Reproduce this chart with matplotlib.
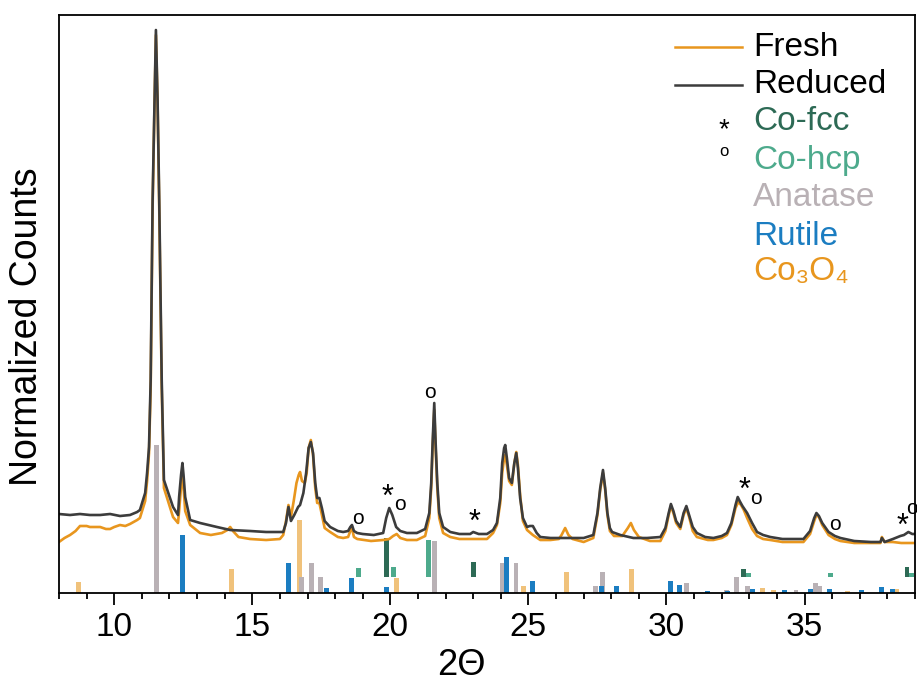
import matplotlib
matplotlib.use("Agg")
import matplotlib.pyplot as plt
from matplotlib.ticker import MultipleLocator

plt.rcParams['font.family'] = ['Liberation Sans', 'DejaVu Sans']

# measured patterns (2theta in degrees, intensity in arbitrary units)
fresh_x = [8.00, 8.2, 8.40, 8.6, 8.76, 9.0, 9.12, 9.49, 9.7, 9.85, 10.0, 10.21, 10.4, 10.57, 10.83, 10.93,
           11.12, 11.19, 11.26, 11.32, 11.39, 11.46, 11.51, 11.57, 11.63, 11.72, 11.80, 12.13, 12.31, 12.35,
           12.42, 12.47, 12.51, 12.57, 12.75, 13.11, 13.5, 13.9, 14.1, 14.2, 14.3, 14.5, 14.92, 15.5, 16.0,
           16.12, 16.22, 16.31, 16.40, 16.5, 16.6, 16.68, 16.73, 16.8, 16.9, 16.97, 17.04, 17.12, 17.2, 17.28,
           17.35, 17.43, 17.52, 17.62, 17.82, 18.1, 18.29, 18.47, 18.55, 18.61, 18.68, 18.8, 19.3, 19.74,
           19.96, 20.1, 20.23, 20.36, 20.6, 20.96, 21.26, 21.41, 21.48, 21.53, 21.59, 21.64, 21.70, 21.77,
           21.91, 22.17, 22.5, 23.0, 23.5, 23.72, 23.86, 23.98, 24.05, 24.12, 24.16, 24.22, 24.3, 24.40,
           24.49, 24.56, 24.62, 24.7, 24.8, 24.95, 25.16, 25.43, 25.8, 26.1, 26.2, 26.33, 26.45, 26.6, 27.0,
           27.35, 27.5, 27.6, 27.7, 27.78, 27.86, 27.95, 28.1, 28.4, 28.6, 28.71, 28.82, 29.0, 29.4, 29.78,
           29.96, 30.08, 30.16, 30.25, 30.35, 30.50, 30.62, 30.72, 30.82, 30.95, 31.1, 31.5, 31.7, 32.0,
           32.19, 32.35, 32.50, 32.6, 32.7, 32.8, 32.92, 33.1, 33.28, 33.5, 33.76, 34.2, 34.96, 35.2, 35.35,
           35.43, 35.52, 35.64, 35.87, 36.1, 36.30, 36.8, 37.4, 37.75, 37.8, 37.9, 38.2, 38.5, 38.8, 39.0]
fresh_y = [51, 55, 58, 62, 67, 67, 66, 66, 64, 64, 66, 68, 67, 69, 73, 75,
           92, 112, 140, 205, 385, 490, 558, 490, 385, 205, 105, 76, 70, 82,
           106, 118, 106, 82, 68, 60, 58, 60, 63, 66, 62, 56, 54, 53, 54,
           58, 72, 88, 76, 92, 110, 118, 121, 112, 110, 120, 145, 153, 138, 105,
           90, 90, 78, 65, 61, 56, 55, 56, 62, 65, 56, 54, 52, 53,
           54, 57, 59, 55, 53, 53, 57, 75, 105, 145, 183, 145, 105, 75,
           60, 56, 54, 54, 54, 60, 68, 90, 120, 135, 138, 128, 112, 108,
           130, 141, 128, 98, 72, 63, 58, 53, 53, 54, 58, 65, 58, 54, 51,
           55, 78, 103, 120, 103, 78, 62, 57, 57, 65, 70, 63, 56, 52, 52,
           62, 78, 87, 80, 70, 64, 78, 85, 76, 62, 56, 53, 53, 55,
           58, 68, 85, 91, 88, 83, 75, 64, 57, 54, 53, 51, 51, 59, 72,
           78, 76, 68, 58, 54, 52, 50, 50, 50, 56, 51, 51, 50, 50, 50]

reduced_x = [8.00, 8.40, 8.76, 9.12, 9.49, 9.85, 10.21, 10.57, 10.83, 10.93, 11.12, 11.19, 11.26, 11.32,
             11.39, 11.46, 11.51, 11.57, 11.63, 11.72, 11.80, 12.13, 12.31, 12.35, 12.42, 12.47, 12.51,
             12.57, 12.75, 13.11, 13.72, 14.2, 14.92, 15.5, 16.12, 16.22, 16.31, 16.40, 16.52, 16.66, 16.73,
             16.85, 16.95, 17.04, 17.12, 17.2, 17.28, 17.35, 17.43, 17.52, 17.62, 17.82, 18.1, 18.29, 18.47,
             18.55, 18.61, 18.68, 18.80, 19.0, 19.4, 19.74, 19.85, 19.96, 20.07, 20.21, 20.36, 20.6, 20.96,
             21.26, 21.41, 21.48, 21.53, 21.59, 21.64, 21.70, 21.77, 21.91, 22.17, 22.5, 22.89, 23.0, 23.2,
             23.5, 23.72, 23.86, 23.98, 24.05, 24.12, 24.16, 24.22, 24.3, 24.40, 24.49, 24.56, 24.62, 24.7,
             24.8, 24.95, 25.05, 25.16, 25.3, 25.43, 25.8, 26.5, 27.0, 27.35, 27.5, 27.6, 27.7, 27.78, 27.86,
             27.95, 28.03, 28.33, 28.8, 29.3, 29.78, 29.96, 30.08, 30.16, 30.25, 30.35, 30.50, 30.62, 30.72,
             30.82, 30.95, 31.10, 31.4, 31.70, 32.0, 32.19, 32.35, 32.50, 32.58, 32.65, 32.75, 32.92, 33.1,
             33.28, 33.5, 33.76, 34.2, 34.96, 35.2, 35.35, 35.43, 35.52, 35.64, 35.87, 36.1, 36.30, 36.8,
             37.4, 37.75, 37.8, 37.9, 38.2, 38.47, 38.6, 38.76, 38.9, 39.0]
reduced_y = [79, 78, 79, 78, 78, 79, 77, 78, 81, 83, 100, 120, 146, 213,
             393, 493, 563, 493, 393, 213, 113, 86, 78, 96, 118, 130, 118,
             96, 73, 70, 66, 63, 62, 61, 61, 70, 86, 72, 78, 86, 88,
             100, 120, 145, 151, 140, 110, 95, 95, 85, 72, 66, 62, 61, 62,
             66, 68, 62, 60, 59, 58, 60, 75, 85, 78, 66, 62, 60, 60,
             64, 80, 110, 150, 190, 150, 110, 80, 66, 61, 59, 59, 61, 59,
             59, 63, 70, 95, 130, 145, 148, 135, 115, 110, 130, 140, 125, 95,
             75, 66, 67, 67, 60, 56, 55, 55, 55, 58, 80, 105, 123, 105, 80,
             65, 61, 58, 55, 55, 56, 65, 80, 89, 82, 72, 66, 80, 87,
             78, 66, 60, 56, 55, 57, 60, 70, 88, 96, 92, 87, 80, 70,
             61, 58, 56, 54, 54, 62, 75, 80, 77, 70, 61, 57, 55, 52,
             51, 51, 55, 51, 54, 57, 58, 61, 59, 59]

# reference patterns (stick positions and relative heights)
anatase_pos = [11.54, 16.78, 17.13, 17.46, 21.59, 24.06, 24.55, 27.44, 27.68, 30.72, 32.17, 32.55, 32.94,
               34.69, 35.39, 35.55]
anatase_h = [148, 16, 30, 16, 52, 30, 30, 7, 21, 10, 3, 16, 7, 3, 10, 7]
rutile_pos = [12.48, 16.32, 17.67, 18.58, 19.85, 24.20, 25.16, 27.66, 28.20, 30.16, 30.48, 31.49, 32.22,
              33.10, 34.28, 35.21, 35.91, 37.05, 37.78, 38.17]
rutile_h = [58, 30, 5, 15, 6, 36, 12, 7, 7, 12, 8, 2, 2, 4, 3, 4, 4, 3, 6, 4]
co3o4_pos = [8.70, 14.26, 16.70, 20.21, 24.82, 26.37, 28.72, 33.46, 33.86, 36.54, 38.33]
co3o4_h = [11, 24, 73, 15, 7, 21, 24, 5, 3, 2, 4]
cofcc_pos = [19.87, 23.01, 32.79, 38.71]
cofcc_h = [39, 15, 8, 10]
cohcp_pos = [18.85, 20.11, 21.38, 32.97, 35.93, 38.89]
cohcp_h = [9.5, 10, 37, 4, 4, 4]

# peak assignments marked on the reduced pattern
fcc_mark_x = [19.88, 23.04, 32.82, 38.56]
fcc_mark_y = [95, 70, 102, 66]
hcp_mark_x = [18.83, 20.33, 21.44, 33.24, 36.10, 38.88]
hcp_mark_y = [75, 88, 200, 94, 68, 84]

c_fresh = '#E8961E'
c_red = '#3C3C3C'
c_ana = '#B9B1B5'
c_rut = '#1B7DC1'
c_co3o4 = '#F0C27B'
c_fcc = '#2D6A55'
c_hcp = '#4DAA8C'

fig = plt.figure(figsize=(9.17, 6.83), dpi=100)
ax = fig.add_axes([59 / 917, 90 / 683, 856 / 917, 578 / 683])

w = 0.18
ax.bar(co3o4_pos, co3o4_h, width=w, color=c_co3o4)
ax.bar(anatase_pos, anatase_h, width=w, color=c_ana)
ax.bar(rutile_pos, rutile_h, width=w, color=c_rut)
ax.bar(cofcc_pos, cofcc_h, width=w, bottom=16, color=c_fcc)
ax.bar(cohcp_pos, cohcp_h, width=w, bottom=16, color=c_hcp)

ax.plot(fresh_x, fresh_y, color=c_fresh, lw=1.9)
ax.plot(reduced_x, reduced_y, color=c_red, lw=1.9)

# * = Co-fcc, o = Co-hcp
for x, y in zip(fcc_mark_x, fcc_mark_y):
    ax.text(x, y, '*', fontsize=22, ha='center', va='center', color='black')
for x, y in zip(hcp_mark_x, hcp_mark_y):
    ax.text(x, y, 'o', fontsize=15, ha='center', va='center', color='black')

# legend drawn by hand
tx = 0.811
ax.plot([0.7196, 0.7979], [0.9446, 0.9446], color=c_fresh, lw=1.8, transform=ax.transAxes)
ax.plot([0.7196, 0.7979], [0.8789, 0.8789], color=c_red, lw=1.8, transform=ax.transAxes)
ax.text(0.7769, 0.800, '*', fontsize=20, ha='center', va='center', transform=ax.transAxes)
ax.text(0.7769, 0.763, 'o', fontsize=12, ha='center', va='center', transform=ax.transAxes)
labels = ['Fresh', 'Reduced', 'Co-fcc', 'Co-hcp', 'Anatase', 'Rutile', 'Co\u2083O\u2084']
colors = ['black', 'black', c_fcc, c_hcp, c_ana, c_rut, c_fresh]
ys = [0.9446, 0.8789, 0.8149, 0.7491, 0.6851, 0.6176, 0.5554]
for lab, col, y in zip(labels, colors, ys):
    ax.text(tx, y, lab, fontsize=24, color=col, ha='left', va='center', transform=ax.transAxes)

ax.set_xlim(8, 39)
ax.set_ylim(0, 578)
ax.set_yticks([])
ax.xaxis.set_major_locator(MultipleLocator(5))
ax.xaxis.set_minor_locator(MultipleLocator(1))
ax.tick_params(axis='x', which='major', direction='out', length=8.5, width=1.3, labelsize=24, pad=5)
ax.tick_params(axis='x', which='minor', direction='out', length=4.5, width=1.3)
for s in ax.spines.values():
    s.set_linewidth(1.3)

ax.set_xlabel('2\u0398', fontsize=26)
ax.xaxis.set_label_coords(0.4696, -0.095)
ax.set_ylabel('Normalized Counts', fontsize=27)
ax.yaxis.set_label_coords(-0.016, 0.46)

fig.savefig('out.png', dpi=100)
